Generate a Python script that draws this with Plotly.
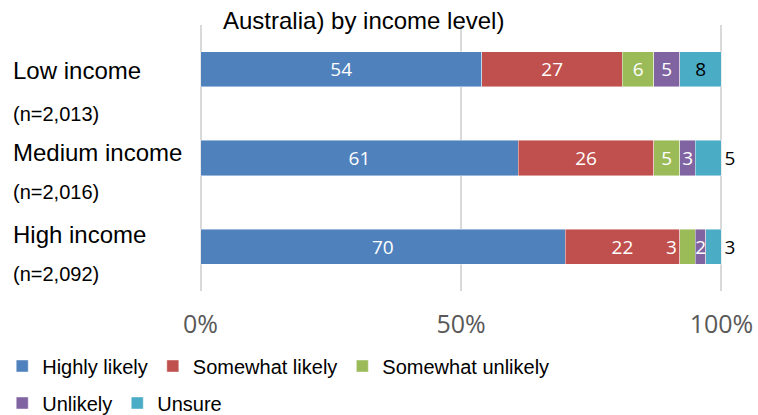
import plotly.graph_objects as go

# ---- data ----
categories = ["Low income", "Medium income", "High income"]
sample_sizes = ["(n=2,013)", "(n=2,016)", "(n=2,092)"]
highly_likely = [54, 61, 70]
somewhat_likely = [27, 26, 22]
somewhat_unlikely = [6, 5, 3]
unlikely = [5, 3, 2]
unsure = [8, 5, 3]
series_names = ["Highly likely", "Somewhat likely", "Somewhat unlikely", "Unlikely", "Unsure"]
tick_vals = [0, 50, 100]
tick_text = ["0%", "50%", "100%"]
title_text = "Australia) by income level)"

colors = ["#4F81BD", "#C0504D", "#9BBB59", "#8064A2", "#4BACC6"]

W, H = 758, 415
X0_PX, X100_PX = 201, 721      # pixel positions of 0% and 100%
PAD = 0.3                       # small range padding so edge gridlines are drawn
scale = (X100_PX - X0_PX) / 100.0
L = X0_PX - PAD * scale
R = W - (X100_PX + PAD * scale)
T, B = 25, 124
PW, PH = W - L - R, H - T - B


def px_x(px):
    return (px - L) / PW


def px_y(py):
    return (H - B - py) / PH


label_font = "Open Sans, Noto Sans, sans-serif"
arial = "Liberation Sans, Arial, sans-serif"

fig = go.Figure()
all_series = [highly_likely, somewhat_likely, somewhat_unlikely, unlikely, unsure]
for i, (name, vals) in enumerate(zip(series_names, all_series)):
    if name == "Unsure":
        positions = ["inside", "outside", "outside"]
        tcolor = ["black"] * 3
    elif name == "Somewhat unlikely":
        positions = ["inside", "inside", "none"]
        tcolor = ["white"] * 3
    else:
        positions = ["inside"] * 3
        tcolor = ["white"] * 3
    fig.add_trace(go.Bar(
        y=categories, x=vals, name=name, orientation="h",
        marker=dict(color=colors[i], line=dict(color="rgba(255,255,255,0.55)", width=0.8)),
        text=[str(v) for v in vals], textposition=positions,
        textfont=dict(family=label_font, size=19, color=tcolor),
        insidetextanchor="middle", constraintext="none", cliponaxis=False,
        legend="legend" if i < 3 else "legend2",
        hoverinfo="skip",
    ))

annotations = []
# High income "Somewhat unlikely" label sits at the right end of the red segment
hi = 2
annotations.append(dict(
    x=highly_likely[hi] + somewhat_likely[hi], y=categories[hi], xref="x", yref="y",
    text=str(somewhat_unlikely[hi]), showarrow=False, xanchor="right", xshift=-1,
    font=dict(family=label_font, size=19, color="white")))

# left category labels
name_y = [69, 151, 233]
n_y = [113.5, 190.5, 273]
for c, n, yn, ys in zip(categories, sample_sizes, name_y, n_y):
    annotations.append(dict(x=px_x(12), y=px_y(yn + 1), xref="paper", yref="paper",
                            text=c, showarrow=False, xanchor="left", yanchor="middle",
                            font=dict(family=arial, size=24, color="black")))
    annotations.append(dict(x=px_x(12), y=px_y(ys + 1), xref="paper", yref="paper",
                            text=n, showarrow=False, xanchor="left", yanchor="middle",
                            font=dict(family=arial, size=20, color="black")))

# title
annotations.append(dict(x=px_x(221), y=px_y(21), xref="paper", yref="paper",
                        text=title_text, showarrow=False, xanchor="left", yanchor="middle",
                        font=dict(family=arial, size=24, color="black")))

legend_common = dict(orientation="h", xanchor="left", yanchor="middle",
                     font=dict(family=arial, size=20, color="black"), traceorder="normal",
                     itemclick=False, bgcolor="rgba(0,0,0,0)")

fig.update_layout(
    width=W, height=H,
    margin=dict(l=L, r=R, t=T, b=B, pad=0, autoexpand=False),
    paper_bgcolor="white", plot_bgcolor="white",
    barmode="stack", bargap=0.605,
    showlegend=True,
    legend=dict(x=px_x(3), y=px_y(366), **legend_common),
    legend2=dict(x=px_x(3), y=px_y(403), **legend_common),
    xaxis=dict(range=[-PAD, 100 + PAD], tickvals=tick_vals, ticktext=tick_text,
               showgrid=True, gridcolor="#D9D9D9", gridwidth=1.5, zeroline=False,
               showline=False, ticks="", ticklabelstandoff=16,
               tickfont=dict(family=label_font, size=25, color="#595959"), fixedrange=True),
    yaxis=dict(categoryorder="array", categoryarray=categories, autorange="reversed",
               showticklabels=False, showgrid=False, zeroline=False, fixedrange=True),
    annotations=annotations,
)

fig.write_html("out.html", config={"displayModeBar": False},
               post_script="document.body.style.margin='0';")
